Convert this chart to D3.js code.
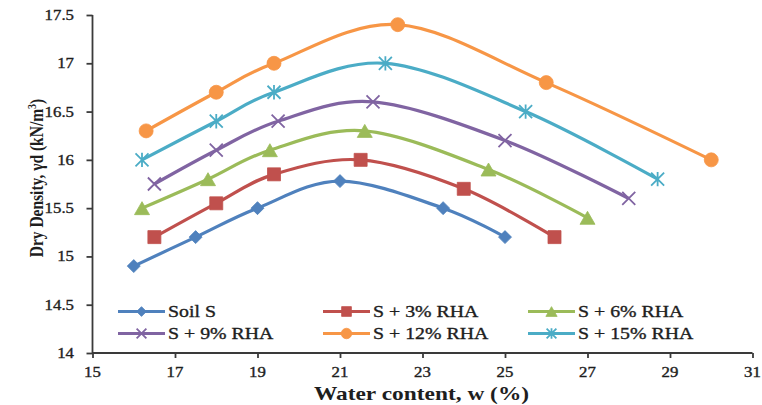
<!DOCTYPE html>
<html>
<head>
<meta charset="utf-8">
<script src="https://cdn.jsdelivr.net/npm/d3@7/dist/d3.min.js"></script>
<style>
  html, body { margin: 0; padding: 0; background: #fff; }
  svg { display: block; }
  text { font-family: "Liberation Serif", "Times New Roman", serif; fill: #1e1e1e; }
  text.light { stroke: #1e1e1e; stroke-width: 0.35; }
</style>
</head>
<body>
<svg id="chart" width="762" height="405"></svg>
<script>
// Compaction curves: dry density against water content for soil + rice husk ash blends
const seriesNames = ["Soil S", "S + 3% RHA", "S + 6% RHA", "S + 9% RHA", "S + 12% RHA", "S + 15% RHA"];

const waterSoil = [16, 17.5, 19, 21, 23.5, 25];
const densitySoil = [14.9, 15.2, 15.5, 15.78, 15.5, 15.2];

const water3 = [16.5, 18, 19.4, 21.5, 24, 26.2];
const density3 = [15.2, 15.55, 15.85, 16.0, 15.7, 15.2];

const water6 = [16.2, 17.8, 19.3, 21.6, 24.6, 27];
const density6 = [15.5, 15.8, 16.1, 16.3, 15.9, 15.4];

const water9 = [16.5, 18, 19.5, 21.8, 25, 28];
const density9 = [15.75, 16.1, 16.4, 16.6, 16.2, 15.6];

const water12 = [16.3, 18, 19.4, 22.4, 26, 30];
const density12 = [16.3, 16.7, 17.0, 17.4, 16.8, 16.0];

const water15 = [16.2, 18, 19.4, 22.1, 25.5, 28.7];
const density15 = [16.0, 16.4, 16.7, 17.0, 16.5, 15.8];

const xTicks = [15, 17, 19, 21, 23, 25, 27, 29, 31];
const yTicks = [14, 14.5, 15, 15.5, 16, 16.5, 17, 17.5];

const colors = ["#4F81BD", "#C0504D", "#9BBB59", "#8064A2", "#F79646", "#4BACC6"];
const markers = ["diamond", "square", "triangle", "cross", "circle", "star"];

const waters = [waterSoil, water3, water6, water9, water12, water15];
const densities = [densitySoil, density3, density6, density9, density12, density15];

const series = seriesNames.map((name, i) => ({
  name,
  color: colors[i],
  marker: markers[i],
  points: waters[i].map((w, j) => ({ w, d: densities[i][j] }))
}));

const svg = d3.select("#chart");
const plot = { left: 92.5, right: 752.5, top: 15, bottom: 353 };
const stretch = 1.2;

const x = d3.scaleLinear().domain([15, 31]).range([plot.left, plot.right]);
const y = d3.scaleLinear().domain([14, 17.5]).range([plot.bottom, plot.top]);

// text widened horizontally, anchored at (px, py)
function label(parent, px, py, str, size, anchor, sx, weight) {
  return parent.append("text")
    .attr("class", weight === "bold" ? null : "light")
    .attr("transform", `translate(${px},${py}) scale(${sx || stretch},1)`)
    .attr("text-anchor", anchor || "start")
    .attr("font-size", size)
    .attr("font-weight", weight || "normal")
    .text(str);
}

// marker shapes centred on the origin, k scales them
function markerPath(type, k) {
  const p = d3.path();
  if (type === "diamond") {
    const r = 6.5 * k;
    p.moveTo(0, -r); p.lineTo(r, 0); p.lineTo(0, r); p.lineTo(-r, 0); p.closePath();
  } else if (type === "square") {
    const r = 6.5 * k;
    p.rect(-r, -r, 2 * r, 2 * r);
  } else if (type === "triangle") {
    const w = 7.5 * k, h = 6.5 * k;
    p.moveTo(0, -h); p.lineTo(w, h); p.lineTo(-w, h); p.closePath();
  } else if (type === "circle") {
    const r = 7 * k;
    p.arc(0, 0, r, 0, 2 * Math.PI);
  } else if (type === "cross" || type === "star") {
    const r = 6.5 * k;
    p.moveTo(-r, -r); p.lineTo(r, r);
    p.moveTo(-r, r); p.lineTo(r, -r);
    if (type === "star") { p.moveTo(0, -r * 1.1); p.lineTo(0, r * 1.1); }
  }
  return p.toString();
}

function drawMarker(g, type, color, k) {
  const open = type === "cross" || type === "star";
  g.append("path")
    .attr("d", markerPath(type, k))
    .attr("fill", open ? "none" : color)
    .attr("stroke", color)
    .attr("stroke-width", open ? 1.8 : 0.8);
}

// axes
const xAxis = d3.axisBottom(x).tickValues(xTicks).tickSize(5).tickFormat("");
const yAxis = d3.axisLeft(y).tickValues(yTicks).tickSize(6).tickFormat("");

const gx = svg.append("g").attr("transform", `translate(0,${plot.bottom})`).call(xAxis);
const gy = svg.append("g").attr("transform", `translate(${plot.left},0)`).call(yAxis);
[gx, gy].forEach(g => {
  g.select(".domain").attr("stroke", "#3a3a3a").attr("stroke-width", 1.8);
  g.selectAll(".tick line").attr("stroke", "#3a3a3a").attr("stroke-width", 1.8);
});
gx.select(".domain").attr("d", `M${plot.left},0H${plot.right}`);
gy.select(".domain").attr("d", `M0,${plot.top}V${plot.bottom}`);

xTicks.forEach(t => label(svg, x(t), plot.bottom + 24, String(t), 14, "middle"));
yTicks.forEach(t => label(svg, 74, y(t) + 5, String(t), 14, "end"));

// axis titles
label(svg, 421.5, 400, "Water content, w (%)", 18, "middle", 1.3, "bold");

const yTitle = svg.append("text")
  .attr("transform", `translate(43,178) scale(1.25,1) rotate(-90)`)
  .attr("text-anchor", "middle")
  .attr("font-size", 15.5)
  .attr("font-weight", "bold");
yTitle.append("tspan").text("Dry Density, γd (kN/m");
yTitle.append("tspan").attr("font-size", 10).attr("dy", -6).text("3");
yTitle.append("tspan").attr("dy", 6).text(")");

// curves
const line = d3.line()
  .x(p => x(p.w))
  .y(p => y(p.d))
  .curve(d3.curveCardinal.tension(0));

const gs = svg.append("g").selectAll("g").data(series).join("g");
gs.append("path")
  .attr("d", s => line(s.points))
  .attr("fill", "none")
  .attr("stroke", s => s.color)
  .attr("stroke-width", 3.2);

gs.each(function (s) {
  const g = d3.select(this);
  s.points.forEach(p => {
    const m = g.append("g").attr("transform", `translate(${x(p.w)},${y(p.d)})`);
    drawMarker(m, s.marker, s.color, 1);
  });
});

// legend, two rows of three
const legendCols = [{ x0: 118, x1: 165 }, { x0: 323, x1: 370 }, { x0: 528, x1: 575 }];
const legendRows = [311.5, 333.5];
series.forEach((s, i) => {
  const c = legendCols[i % 3], ry = legendRows[Math.floor(i / 3)];
  const g = svg.append("g");
  g.append("line")
    .attr("x1", c.x0).attr("x2", c.x1).attr("y1", ry).attr("y2", ry)
    .attr("stroke", s.color).attr("stroke-width", 3.2);
  const m = g.append("g").attr("transform", `translate(${(c.x0 + c.x1) / 2},${ry})`);
  drawMarker(m, s.marker, s.color, 0.75);
  label(g, c.x1 + 3, ry + 5.5, s.name, 16, "start", 1.24);
});
</script>
</body>
</html>
